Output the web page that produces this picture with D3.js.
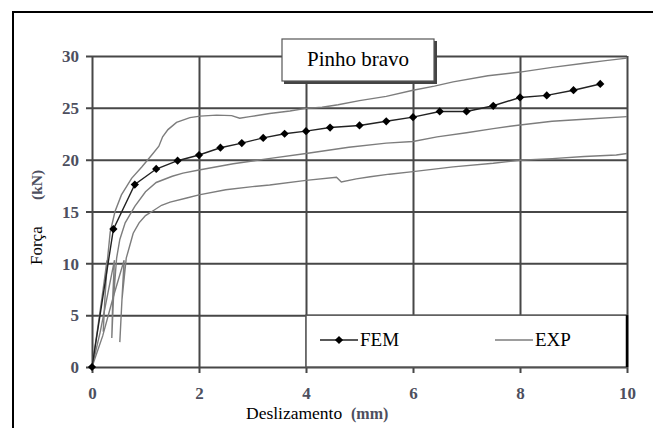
<!DOCTYPE html>
<html>
<head>
<meta charset="utf-8">
<script src="https://cdn.jsdelivr.net/npm/d3@7"></script>
<style>
  html, body { margin: 0; padding: 0; background: #fff; }
  svg { display: block; }
</style>
</head>
<body>
<div id="chart"></div>
<script>
// tick values
const xTicks = [0, 2, 4, 6, 8, 10];
const yTicks = [0, 5, 10, 15, 20, 25, 30];

// FEM model (diamonds)
const femX = [0, 0.4, 0.8, 1.2, 1.6, 2.0, 2.4, 2.8, 3.2, 3.6, 4.0, 4.45, 5.0, 5.5, 6.0, 6.5, 7.0, 7.5, 8.0, 8.5, 9.0, 9.5];
const femY = [0, 13.3, 17.6, 19.1, 19.9, 20.45, 21.15, 21.6, 22.1, 22.5, 22.75, 23.1, 23.3, 23.7, 24.1, 24.65, 24.65, 25.2, 26.0, 26.2, 26.7, 27.3];

// experimental curves (with the unload / reload loop near 10 kN)
const expUpper = [[0,0],[0.1,3.5],[0.2,7.2],[0.28,10.3],[0.25,7.5],[0.21,3.4],[0.24,6.5],[0.29,10.4],[0.34,13.0],[0.43,15.0],[0.55,16.6],[0.74,18.2],[0.93,19.3],[1.14,20.6],[1.25,21.3],[1.32,22.2],[1.42,22.9],[1.58,23.6],[1.83,24.05],[2.02,24.2],[2.33,24.3],[2.61,24.25],[2.76,24.0],[2.95,24.15],[3.32,24.45],[3.7,24.7],[4.0,24.95],[4.3,25.05],[4.6,25.3],[5.0,25.7],[5.5,26.1],[6.0,26.7],[6.4,27.1],[6.75,27.5],[7.4,28.1],[8.0,28.45],[8.6,28.9],[9.2,29.3],[9.6,29.55],[10,29.8]];
const expMiddle = [[0,0],[0.15,3.3],[0.3,7.2],[0.42,10.3],[0.39,7.0],[0.37,2.8],[0.4,6.5],[0.46,10.5],[0.52,12.3],[0.62,13.9],[0.8,15.5],[1.0,16.9],[1.2,17.8],[1.5,18.4],[1.7,18.7],[2.0,19.0],[2.64,19.6],[3.3,20.1],[4.0,20.6],[4.8,21.2],[5.5,21.6],[6.0,21.75],[6.45,22.2],[7.0,22.6],[7.5,23.0],[8.0,23.35],[8.6,23.7],[9.2,23.9],[10,24.15]];
const expLower = [[0,0],[0.2,3.0],[0.4,6.8],[0.6,10.3],[0.56,6.5],[0.52,2.4],[0.56,6.5],[0.64,10.5],[0.7,11.6],[0.77,12.9],[0.88,13.9],[1.0,14.6],[1.15,15.1],[1.3,15.6],[1.46,15.9],[1.77,16.3],[2.0,16.6],[2.5,17.1],[3.0,17.4],[3.32,17.55],[4.0,18.0],[4.57,18.3],[4.66,17.85],[4.94,18.15],[5.2,18.35],[5.56,18.6],[6.0,18.85],[6.75,19.3],[7.5,19.65],[8.0,19.95],[8.6,20.1],[9.2,20.3],[9.8,20.45],[10,20.6]];

const width = 653, height = 428;
const plotLeft = 92, plotRight = 627, plotTop = 56, plotBottom = 367;
const serif = "'Liberation Serif', 'Times New Roman', Tinos";

const svg = d3.select("#chart").append("svg")
  .attr("width", width)
  .attr("height", height);

// outer frame (cut off at right and bottom)
svg.append("rect")
  .attr("x", 13).attr("y", 12)
  .attr("width", 700).attr("height", 500)
  .attr("fill", "#fff")
  .attr("stroke", "#000")
  .attr("stroke-width", 2);

const x = d3.scaleLinear().domain([0, 10]).range([plotLeft, plotRight]);
const y = d3.scaleLinear().domain([0, 30]).range([plotBottom, plotTop]);

const labelColor = "#4d4f5e";

// horizontal grid + y labels
const yAxis = svg.append("g")
  .attr("transform", "translate(86,0)")
  .call(d3.axisLeft(y).tickValues(yTicks).tickSizeInner(-(plotRight - 86)).tickSizeOuter(0).tickPadding(7));
yAxis.select(".domain").remove();
yAxis.selectAll("line").attr("stroke", "#474747").attr("stroke-width", 2);
yAxis.selectAll("text")
  .style("font-family", serif)
  .attr("font-weight", "bold")
  .attr("font-size", 17)
  .attr("fill", labelColor)
  .attr("dy", "0.34em");

// vertical grid + x labels
const xAxis = svg.append("g")
  .attr("transform", "translate(0,373)")
  .call(d3.axisBottom(x).tickValues(xTicks).tickSizeInner(-(373 - plotTop)).tickSizeOuter(0).tickPadding(0));
xAxis.select(".domain").remove();
xAxis.selectAll("line").attr("stroke", "#474747").attr("stroke-width", 2);
xAxis.selectAll("text")
  .style("font-family", serif)
  .attr("font-weight", "bold")
  .attr("font-size", 17)
  .attr("fill", labelColor)
  .attr("y", 26)
  .attr("dy", 0);

// legend box sits on the grid (x 4..10, y 0..5)
svg.append("rect")
  .attr("x", x(4)).attr("y", y(5))
  .attr("width", x(10) - x(4)).attr("height", y(0) - y(5))
  .attr("fill", "#fff")
  .attr("stroke", "#555")
  .attr("stroke-width", 1.5);
svg.append("line")
  .attr("x1", x(10)).attr("x2", x(10))
  .attr("y1", y(5)).attr("y2", y(0))
  .attr("stroke", "#000").attr("stroke-width", 2.5);

const line = d3.line().x(d => x(d[0])).y(d => y(d[1]));

// EXP curves
svg.selectAll(".exp")
  .data([expUpper, expMiddle, expLower])
  .enter().append("path")
  .attr("class", "exp")
  .attr("d", line)
  .attr("fill", "none")
  .attr("stroke", "#7d7d7d")
  .attr("stroke-width", 1.4);

// FEM curve
const fem = femX.map((v, i) => [v, femY[i]]);
svg.append("path")
  .attr("d", line(fem))
  .attr("fill", "none")
  .attr("stroke", "#222")
  .attr("stroke-width", 1.4);

const diamond = d3.symbol().type(d3.symbolSquare).size(34);
svg.selectAll(".fem")
  .data(fem)
  .enter().append("path")
  .attr("class", "fem")
  .attr("d", diamond)
  .attr("transform", d => "translate(" + x(d[0]) + "," + y(d[1]) + ") rotate(45)")
  .attr("fill", "#000");

// legend entries
svg.append("line")
  .attr("x1", 320).attr("x2", 358).attr("y1", 340).attr("y2", 340)
  .attr("stroke", "#222").attr("stroke-width", 1.4);
svg.append("path")
  .attr("d", diamond)
  .attr("transform", "translate(339,340) rotate(45)")
  .attr("fill", "#000");
svg.append("text")
  .attr("x", 360).attr("y", 346)
  .style("font-family", serif)
  .attr("font-size", 19)
  .text("FEM");

svg.append("line")
  .attr("x1", 495).attr("x2", 533).attr("y1", 340).attr("y2", 340)
  .attr("stroke", "#7d7d7d").attr("stroke-width", 1.6);
svg.append("text")
  .attr("x", 535).attr("y", 346)
  .style("font-family", serif)
  .attr("font-size", 19)
  .text("EXP");

// title box
svg.append("rect")
  .attr("x", 284).attr("y", 41).attr("width", 153).attr("height", 43)
  .attr("fill", "#444");
svg.append("rect")
  .attr("x", 282).attr("y", 39).attr("width", 152).attr("height", 42)
  .attr("fill", "#fff")
  .attr("stroke", "#555")
  .attr("stroke-width", 1.2);
svg.append("text")
  .attr("x", 358).attr("y", 66)
  .attr("text-anchor", "middle")
  .style("font-family", serif)
  .attr("font-size", 21)
  .text("Pinho bravo");

// axis titles
svg.append("text")
  .attr("x", 246).attr("y", 419)
  .style("font-family", serif)
  .attr("font-size", 17.5)
  .text("Deslizamento");
svg.append("text")
  .attr("x", 351).attr("y", 419)
  .style("font-family", serif)
  .attr("font-weight", "bold")
  .attr("font-size", 16)
  .attr("fill", labelColor)
  .text("(mm)");

svg.append("text")
  .attr("transform", "translate(42,265) rotate(-90)")
  .style("font-family", serif)
  .attr("font-size", 17)
  .text("Força");
svg.append("text")
  .attr("transform", "translate(42,200) rotate(-90)")
  .style("font-family", serif)
  .attr("font-weight", "bold")
  .attr("font-size", 15.5)
  .attr("fill", labelColor)
  .text("(kN)");
</script>
</body>
</html>
